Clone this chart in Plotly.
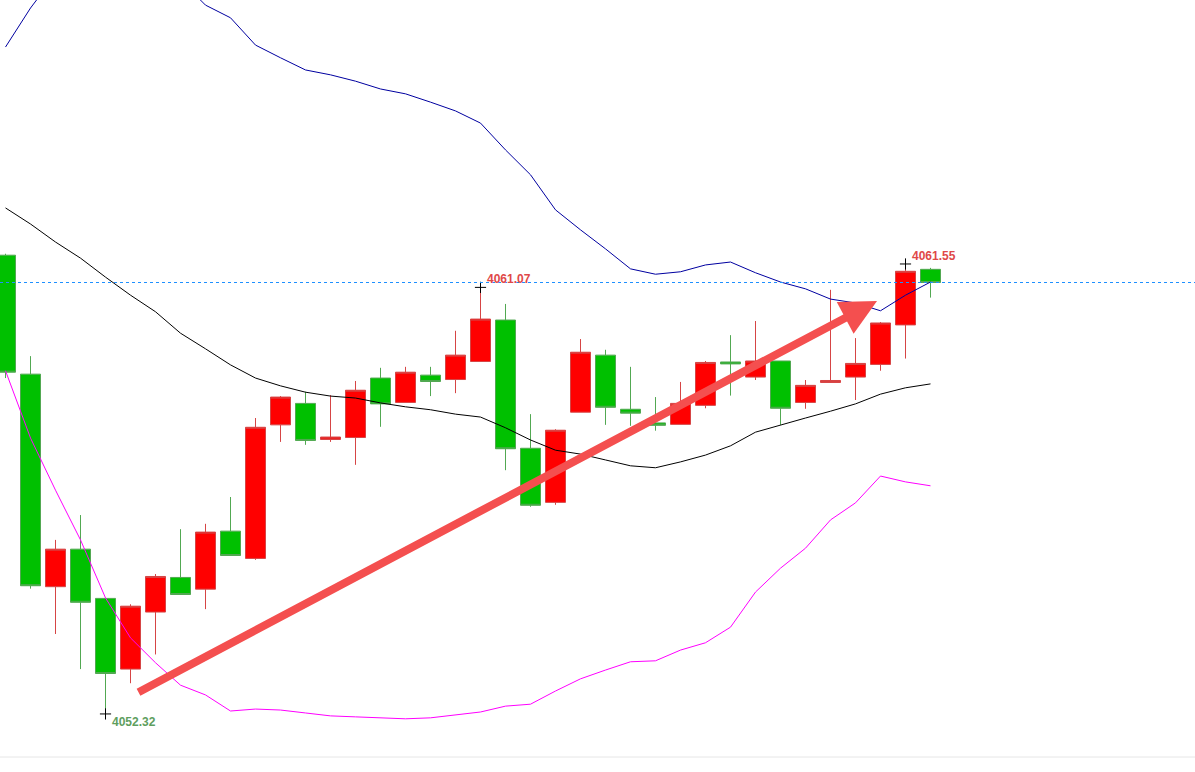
import plotly.graph_objects as go

# 蜡烛数据（红涨绿跌）
bar_index = list(range(38))
open_px = [4061.73, 4059.29, 4054.93, 4055.70, 4054.69, 4053.24, 4054.41, 4055.12, 4054.88, 4056.07,
           4055.51, 4058.25, 4058.69, 4057.95, 4057.99, 4059.21, 4058.71, 4059.27, 4059.18, 4059.55,
           4060.40, 4057.77, 4056.66, 4058.51, 4059.68, 4058.57, 4058.29, 4058.26, 4058.65, 4059.54,
           4059.23, 4059.56, 4058.71, 4059.12, 4059.23, 4059.49, 4060.30, 4061.44]
high_px = [4061.76, 4059.66, 4055.89, 4056.40, 4054.70, 4054.57, 4055.19, 4056.11, 4056.22, 4056.77,
           4058.39, 4058.84, 4058.93, 4058.86, 4059.15, 4059.42, 4059.44, 4059.44, 4060.18, 4061.07,
           4060.73, 4058.47, 4058.16, 4060.01, 4059.79, 4059.44, 4058.82, 4059.13, 4059.56, 4060.09,
           4060.38, 4059.56, 4059.17, 4061.02, 4060.03, 4060.36, 4061.55, 4061.47]
low_px = [4059.21, 4054.89, 4053.96, 4053.24, 4052.32, 4052.95, 4053.54, 4054.77, 4054.47, 4055.57,
          4055.48, 4057.90, 4057.84, 4057.90, 4057.43, 4058.21, 4058.71, 4058.84, 4058.90, 4059.55,
          4057.32, 4056.57, 4056.61, 4058.51, 4058.25, 4058.23, 4058.13, 4058.26, 4058.59, 4058.85,
          4059.17, 4058.25, 4058.58, 4059.12, 4058.76, 4059.36, 4059.61, 4060.86]
close_px = [4059.33, 4054.95, 4055.70, 4054.61, 4053.15, 4054.53, 4055.14, 4054.77, 4056.05, 4055.57,
            4058.20, 4058.82, 4057.93, 4058.00, 4058.96, 4058.68, 4059.33, 4059.14, 4059.68, 4060.42,
            4057.76, 4056.60, 4058.14, 4059.74, 4058.61, 4058.49, 4058.24, 4058.69, 4059.53, 4059.50,
            4059.56, 4058.59, 4059.06, 4059.16, 4059.51, 4060.34, 4061.40, 4061.17]

# 布林带
boll_upper = [4066.00, 4066.80, 4067.48, 4067.89, 4068.09, 4068.09, 4067.89, 4067.38, 4066.86, 4066.60,
              4066.04, 4065.78, 4065.53, 4065.43, 4065.30, 4065.14, 4065.04, 4064.87, 4064.69, 4064.44,
              4063.89, 4063.38, 4062.66, 4062.25, 4061.86, 4061.45, 4061.34, 4061.39, 4061.53, 4061.59,
              4061.37, 4061.18, 4061.04, 4060.83, 4060.75, 4060.59, 4060.91, 4061.18]
boll_mid = [4062.70, 4062.37, 4062.00, 4061.67, 4061.28, 4060.91, 4060.57, 4060.13, 4059.81, 4059.48,
            4059.21, 4059.05, 4058.92, 4058.84, 4058.80, 4058.70, 4058.62, 4058.56, 4058.47, 4058.41,
            4058.19, 4057.94, 4057.73, 4057.65, 4057.53, 4057.41, 4057.37, 4057.49, 4057.63, 4057.82,
            4058.10, 4058.25, 4058.39, 4058.53, 4058.68, 4058.88, 4059.01, 4059.09]
boll_lower = [4059.36, 4057.98, 4056.91, 4055.89, 4054.70, 4053.88, 4053.37, 4052.91, 4052.71, 4052.38,
              4052.42, 4052.40, 4052.34, 4052.28, 4052.26, 4052.24, 4052.22, 4052.24, 4052.30, 4052.36,
              4052.48, 4052.52, 4052.79, 4053.04, 4053.22, 4053.39, 4053.41, 4053.63, 4053.78, 4054.10,
              4054.82, 4055.31, 4055.72, 4056.30, 4056.65, 4057.20, 4057.08, 4057.00]

# 标注的高低点
mark_index = [19, 36, 4]
mark_price = [4061.07, 4061.55, 4052.32]
mark_label = ["4061.07", "4061.55", "4052.32"]

# 趋势箭头（起点、终点）
arrow_start = (5.26, 4052.75)
arrow_end = (34.86, 4060.79)

fig = go.Figure()

fig.add_trace(go.Candlestick(
    x=bar_index, open=open_px, high=high_px, low=low_px, close=close_px,
    increasing=dict(fillcolor="#FF0000", line=dict(color="#D64545", width=1)),
    decreasing=dict(fillcolor="#00C000", line=dict(color="#52A852", width=1)),
    whiskerwidth=0, showlegend=False, hoverinfo="skip",
))

fig.add_trace(go.Scatter(x=bar_index, y=boll_mid, mode="lines",
                         line=dict(color="#000000", width=1), showlegend=False, hoverinfo="skip"))
fig.add_trace(go.Scatter(x=bar_index, y=boll_upper, mode="lines",
                         line=dict(color="#0000A0", width=1), showlegend=False, hoverinfo="skip"))
fig.add_trace(go.Scatter(x=bar_index, y=boll_lower, mode="lines",
                         line=dict(color="#FF00FF", width=1), showlegend=False, hoverinfo="skip"))

# 高低点十字
fig.add_trace(go.Scatter(x=mark_index, y=mark_price, mode="markers",
                         marker=dict(symbol="cross-thin", size=8, line=dict(color="#000000", width=1)),
                         showlegend=False, hoverinfo="skip"))

# 当前价虚线
fig.add_shape(type="line", xref="paper", x0=0, x1=1, yref="y", y0=close_px[-1], y1=close_px[-1],
              line=dict(color="#1E90FF", width=1, dash="3px,3px"))
# 底部分隔线
fig.add_shape(type="line", xref="paper", x0=0, x1=1, yref="paper", y0=0.0194, y1=0.0194,
              line=dict(color="#E6E6E6", width=1))

label_colors = ["#E04848", "#E04848", "#5E9E5E"]
label_shift = [8, 8, -8]
for i, p, t, c, s in zip(mark_index, mark_price, mark_label, label_colors, label_shift):
    fig.add_annotation(x=i, y=p, text="<b>%s</b>" % t, showarrow=False, xanchor="left",
                       yanchor="middle", xshift=4, yshift=s,
                       font=dict(family="Liberation Sans, Arial", size=12, color=c))

fig.add_annotation(x=arrow_end[0], y=arrow_end[1], ax=arrow_start[0], ay=arrow_start[1],
                   xref="x", yref="y", axref="x", ayref="y", text="", showarrow=True,
                   arrowhead=2, arrowsize=0.9, arrowwidth=8, arrowcolor="#F44F4F", standoff=0)

fig.update_layout(
    width=1195, height=772,
    margin=dict(l=0, r=0, t=0, b=0),
    paper_bgcolor="white", plot_bgcolor="white",
    boxgap=0.2, boxgroupgap=0,
    xaxis=dict(range=[-0.22, 47.58], visible=False, rangeslider=dict(visible=False), fixedrange=True),
    yaxis=dict(range=[4051.129, 4066.965], visible=False, fixedrange=True),
    hovermode=False,
)

fig.write_html("out.html", config={"displayModeBar": False},
               post_script="document.body.style.margin='0';document.body.style.overflow='hidden';")
